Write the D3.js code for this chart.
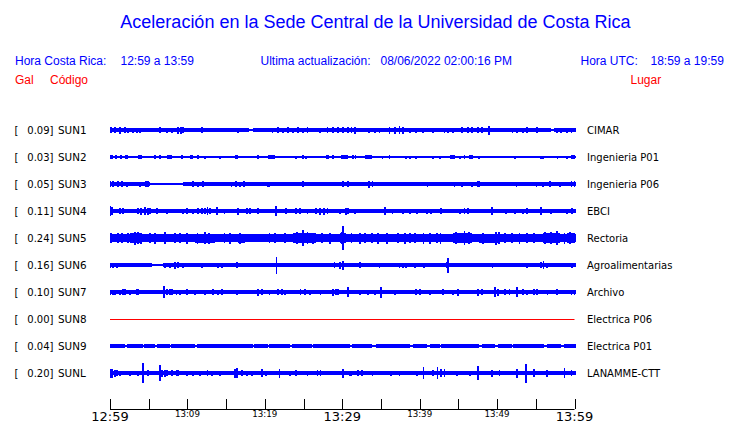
<!DOCTYPE html>
<html><head><meta charset="utf-8">
<script src="https://cdn.jsdelivr.net/npm/d3@7"></script>
<style>
html,body{margin:0;padding:0;background:#fff;}
svg{display:block;}
</style></head>
<body>
<script>
// ---------------- DATA ----------------
const stations = ["SUN1","SUN2","SUN3","SUN4","SUN5","SUN6","SUN7","SUN8","SUN9","SUNL"];
const galValues = [0.09,0.03,0.05,0.11,0.24,0.16,0.10,0.00,0.04,0.20];
const places = ["CIMAR","Ingenieria P01","Ingenieria P06","EBCI","Rectoria","Agroalimentarias","Archivo","Electrica P06","Electrica P01","LANAMME-CTT"];
const traceColors = ["blue","blue","blue","blue","blue","blue","blue","red","blue","blue"];
// base amplitude of each trace (arbitrary units)
const baseAmp = [1.7,0.6,1.7,1.7,4.0,1.7,1.7,0,1.7,1.7];
const tickMinutes = [0,5,10,15,20,25,30,35,40,45,50,55,60];
const tickLabels = {0:"12:59",10:"13:09",20:"13:19",30:"13:29",40:"13:39",50:"13:49",60:"13:59"};
const majorLabels = [0,30,60];

// segments: [startMin, endMin, amp]  spikes: [min, amp]
const sun1Seg = [[18.0,18.5,1.0],[57.0,57.4,1.0]];
const sun1Spk = [[0.1,3],[0.6,3],[1.3,3.5],[1.9,3],[2.3,2.5],[3.0,2.5],[3.5,2.5],[3.9,2.5],[6.5,3],[7.4,2.5],[8.0,2.5],[8.8,3.5],[9.2,3.5],[9.4,3],[11.9,3],[15.1,2],[16.5,2.5],
 [21.0,2.5],[21.7,3],[22.3,2.5],[23.0,3],[23.6,2.5],[24.3,3],[24.9,2.5],[25.5,3],[27.1,2.5],[28.1,3],[28.8,3],[29.4,3],[30.1,3],[30.7,3],[31.2,3],[31.6,3.5],[33.5,2.5],[34.2,2.5],[34.8,2.5],[36.1,3.5],[36.8,3.5],[37.4,4],[37.8,3.5],[38.7,2.5],[39.5,2.5],
 [40.4,2.5],[41.7,2.5],[43.2,2.5],[43.7,2.5],[44.3,2.5],[45.5,3],[46.2,3],[46.8,3],[47.5,3],[48.1,3],[49.0,4.5],[52.0,2.5],[52.6,2.5],[53.3,2.5],[53.9,3],[55.2,3],[57.7,2.5],[58.3,2.5],[59.0,2.5],[59.6,2.5]];

const sun2Seg = [[0,0.4,1.7],[0.6,0.9,1.7],[1.3,1.5,1.7],[1.9,2.3,1.7],[3.6,4.1,1.7],[7.4,8.0,1.7],[10.3,10.7,1.7],[16.1,16.5,1.7],[20.4,21.3,1.7],[27.9,28.3,1.7],[29.8,30.7,1.7],[33.0,33.9,1.7],[43.9,44.5,1.7],[59.6,60,1.7]];
const sun2Spk = [[5.8,1.7],[6.5,1.7],[9.3,1.7],[11.4,1.7],[12.3,1.5],[14.2,1.5],[19.1,1.7],[24.0,1.5],[24.9,1.7],[25.3,1.5],[28.8,1.7],[31.4,1.7],[31.7,1.7],[35.2,1.5],[36.1,1.7],[38.2,1.5],[38.8,1.5],[39.5,1.5],[41.7,1.5],[42.6,1.5],[45.2,1.5],[45.8,1.7],[46.5,1.7],[46.8,1.7],[47.7,1.5],[52.3,1.5],[55.7,1.5],[55.9,1.5],[57.8,1.5],[59.0,1.5]];

const sun3Seg = [[5.2,9.4,0.6]];
const sun3Spk = [[0,3],[0.4,3],[1.0,3],[1.5,3],[2.2,2.5],[3.9,2.5],[4.6,3],[4.9,3],[10.7,3],[11.4,2.5],[12.0,3],[15.7,2.5],[16.3,3],[16.8,2.5],[17.3,3],[20.4,2.5],[20.6,2.5],[24.9,3],[30.1,3],[30.7,3],[33.5,3.5],[33.9,3],[35.5,2],
 [41.0,2.5],[44.5,2.5],[45.5,2.5],[46.8,2.5],[47.5,3],[47.7,3],[52.5,2.5],[55.1,2.5],[55.9,2.5],[56.8,3],[58.1,2.5],[59.6,3],[60,3]];

const sun4Seg = [];
const sun4Spk = [[0,5],[0.3,4],[1.3,3],[1.7,3],[3.6,3],[4.0,3.5],[4.5,4],[4.9,3.5],[5.2,3],[6.1,3],[7.4,2.5],[9.4,2.5],[9.9,3],[10.7,2.5],[11.4,3],[11.9,3],[12.3,3],[12.6,4],[12.9,3],[13.8,4],[14.8,2.5],[16.5,3.5],[17.7,3],[18.1,3],[19.1,3],
 [21.4,5],[22.7,3],[24.0,3],[24.5,3],[25.5,2.5],[26.6,3],[27.1,3.5],[27.6,3.5],[28.1,3],[29.7,2.5],[30.5,3.5],[30.7,3],[31.6,2.5],[35.5,4],[36.5,2.5],[37.8,2.5],[38.8,2.5],[39.7,2.5],
 [40.9,2.5],[41.5,2.5],[42.8,3],[45.2,2.5],[45.8,3],[46.2,3],[49.3,4],[51.2,2.5],[52.3,2.5],[53.3,2.5],[53.9,3],[55.7,4],[57.0,2.5],[59.0,2.5],[59.7,3]];

const sun5Seg = [[0,0.3,5],[2.6,4.1,5],[11.0,13.5,4.5],[16.5,17.4,4.5],[23.6,26.6,5],[29.7,30.5,5],[44.3,46.8,5],[47.7,50.3,4.5],[55.9,58.1,5],[59.0,60,5]];
const sun5Spk = [[24.9,8],[30.1,12],[45.8,7],[49.9,6.5],[57.7,7],[3.2,6.5],[7.1,6],[12.3,6],[2.3,5],
 [1.0,5],[1.5,5],[5.2,5],[5.8,5.5],[8.4,5],[9.0,5],[9.9,5.5],[14.8,5],[15.5,5.5],[20.6,5],[21.3,5],[22.6,5],[27.4,5],[28.4,5.5],[31.2,5],[32.3,5.5],[32.9,5],[33.8,5],[34.6,5.5],[37.2,5],[38.1,5.5],[38.7,5],[39.4,5],[41.3,5.5],[42.2,5],[51.0,5],[51.9,5],[52.9,5.5],[53.9,5],[54.8,5],[58.7,5.5],
 [3.6,6],[4.0,5.5],[11.3,5.5],[12.8,5.5],[16.8,5.5],[24.2,6],[25.5,6],[26.2,5.5],[29.9,6],[35.8,5.5],[40.5,5.5],[42.7,5.5],[44.7,6],[46.4,6],[48.2,5.5],[50.2,6],[56.2,6],[57.0,6],[59.4,6]];

const sun6Seg = [[5.4,6.8,1.2]];
const sun6Spk = [[0,2.5],[0.4,2.5],[0.9,2.5],[7.1,2.5],[7.7,2.5],[8.4,3.5],[8.8,3],[9.4,2.5],[11.9,2.5],[13.9,2.5],[14.5,2.5],[16.4,3],[20.1,2],[21.5,8.5],[29.0,3],[29.7,3.5],[30.1,4.5],[32.3,3],[34.8,2.5],[37.4,2.5],[37.8,2.5],[38.2,2.5],[39.4,2.5],
 [40.6,2.5],[43.5,3],[43.7,7.5],[48.8,2],[49.4,2.5],[50.1,2],[51.2,2],[53.9,2.5],[55.7,3],[56.0,4],[56.4,2.5],[59.7,2.5]];

const sun7Seg = [];
const sun7Spk = [[0,2.5],[0.4,2.5],[0.6,2.5],[1.3,2.5],[1.7,3],[1.9,3],[2.6,2.5],[3.5,3],[3.6,3],[7.0,6],[7.4,3],[7.7,3],[8.0,3],[8.6,2.5],[9.0,2.5],[9.9,3],[11.0,2.5],[12.3,2.5],[13.3,3],[13.9,2.5],[14.5,3],[16.4,2.5],[19.1,3.5],[19.6,3],
 [20.6,2.5],[21.7,3],[22.2,3],[22.6,2.5],[24.6,3],[25.2,3],[25.8,2.5],[27.2,2.5],[28.8,3.5],[29.2,3],[29.4,3],[30.7,5],[32.3,2.5],[33.3,2.5],[34.2,2.5],[35.0,5.5],[36.8,2.5],[39.5,3],
 [40.0,3],[41.3,2.5],[43.0,3],[44.3,2.5],[44.9,3.5],[47.5,3.5],[48.1,3],[49.7,5],[50.1,3.5],[51.0,3],[51.6,3],[52.6,5],[53.3,3],[53.9,2.5],[54.8,3],[55.2,3],[56.5,2.5],[57.7,3],[57.8,3],[59.6,2.5],[60,2.5]];

const sun8Seg = [];
const sun8Spk = [];

const sun9Seg = [[1.9,2.2,1.0],[4.3,4.4,1.0],[5.8,6.1,1.0],[7.7,7.9,1.0],[11.0,11.2,1.0],[18.5,18.6,1.0],[20.4,20.6,1.0],[23.2,23.5,1.0],[26.1,26.2,1.0],[31.0,31.2,1.0],[33.9,34.3,1.0],[38.7,39.1,1.0],[40.9,41.3,1.0],[42.6,42.8,1.0],[47.7,48.0,1.0],[49.7,50.1,1.0],[51.9,52.0,1.0],[56.1,56.5,1.0],[58.2,58.7,1.0]];
const sun9Spk = [[6.2,2.2],[55.9,2.2]];

const sunLSeg = [];
const sunLSpk = [[0,4.5],[0.3,4.5],[0.6,3.5],[0.9,3],[1.3,2.5],[2.6,2.5],[3.6,2.5],[4.3,10],[4.9,3],[6.5,8],[6.7,3.5],[7.1,3.5],[7.4,3],[8.0,3],[8.6,3],[8.8,3],[9.9,2.5],[10.7,2.5],[11.6,2.5],[12.6,3],[13.2,2.5],[14.2,2.5],[16.1,4.5],[16.4,5],[17.0,3],[17.7,2.5],[18.3,2.5],[19.6,4],
 [20.1,2.5],[21.9,4.5],[23.2,2.5],[24.0,3],[25.5,2.5],[26.8,3],[27.2,3],[30.1,4.5],[31.0,2.5],[31.1,2.5],[32.0,3],[32.6,3],[33.9,2.5],[36.3,2.5],[37.4,2.5],[39.7,2.5],
 [40.5,6],[41.7,3],[42.3,6],[42.8,4],[43.2,4],[44.8,2.5],[46.5,2.5],[47.5,7],[49.3,3.5],[49.4,3.5],[50.3,3],[52.6,4.5],[53.7,9.5],[54.8,4],[56.4,3.5],[56.5,3],[58.7,5],[59.6,3]];

const segments = [sun1Seg,sun2Seg,sun3Seg,sun4Seg,sun5Seg,sun6Seg,sun7Seg,sun8Seg,sun9Seg,sunLSeg];
const spikes = [sun1Spk,sun2Spk,sun3Spk,sun4Spk,sun5Spk,sun6Spk,sun7Spk,sun8Spk,sun9Spk,sunLSpk];

// ---------------- CHART ----------------
const W = 740, H = 423;
const svg = d3.select("body").append("svg").attr("width", W).attr("height", H);
const headFont = "'Liberation Sans', Arial, Helvetica, sans-serif";
const labFont = "'DejaVu Sans', Verdana, sans-serif";
const blue = "#0000ff";

const x = d3.scaleLinear().domain([0, 60]).range([110, 574.5]);
const y = d3.scaleBand().domain(stations).range([116.5, 386.5]);
const amp = d3.scaleLinear().domain([0, 13.5]).range([0, 13.5]);

// title and header
svg.append("text").attr("x", 375.5).attr("y", 28).attr("text-anchor","middle")
  .attr("font-family", headFont).attr("font-size", 18).attr("fill", blue)
  .text("Aceleración en la Sede Central de la Universidad de Costa Rica");

const header = [
  [15, "Hora Costa Rica:"], [120.5, "12:59 a 13:59"],
  [260.5, "Ultima actualización:"], [380.5, "08/06/2022 02:00:16 PM"],
  [580.5, "Hora UTC:"], [650.5, "18:59 a 19:59"]
];
svg.selectAll("text.head").data(header).join("text").attr("class","head")
  .attr("x", d => d[0]).attr("y", 65).attr("font-family", headFont).attr("font-size", 12)
  .attr("fill", blue).text(d => d[1]);

const header2 = [[15,"Gal"],[50,"Código"],[630.5,"Lugar"]];
svg.selectAll("text.head2").data(header2).join("text").attr("class","head2")
  .attr("x", d => d[0]).attr("y", 84).attr("font-family", headFont).attr("font-size", 12)
  .attr("fill", "#ff0000").text(d => d[1]);

// row labels
const rows = svg.selectAll("g.row").data(stations).join("g").attr("class","row")
  .attr("transform", d => `translate(0,${y(d) + y.bandwidth()/2})`);
rows.append("text").attr("x", 14.5).attr("y", 4).attr("font-family", labFont).attr("font-size", 10)
  .attr("fill","#000").text("[");
rows.append("text").attr("x", 53.5).attr("y", 4).attr("text-anchor","end").attr("font-family", labFont).attr("font-size", 10)
  .attr("fill","#000").text((d,i) => galValues[i].toFixed(2) + "]");
rows.append("text").attr("x", 58).attr("y", 4).attr("font-family", labFont).attr("font-size", 10.4)
  .attr("fill","#000").text(d => d);
rows.append("text").attr("x", 587).attr("y", 4).attr("font-family", labFont).attr("font-size", 10)
  .attr("fill","#000").text((d,i) => places[i]);

// traces
const x0 = Math.round(x(0)), x1 = Math.round(x(60));
stations.forEach((s, i) => {
  const cy = y(s) + y.bandwidth()/2;
  if (baseAmp[i] === 0) {
    svg.append("line").attr("x1", x(0)).attr("x2", x(60)).attr("y1", Math.floor(cy)+0.5).attr("y2", Math.floor(cy)+0.5)
      .attr("stroke", traceColors[i]).attr("stroke-width", 1);
    return;
  }
  const cols = [];
  for (let c = x0; c <= x1; c++) {
    const t = x.invert(c + 0.5);
    let e = baseAmp[i];
    segments[i].forEach(sg => { if (t >= sg[0] && t <= sg[1]) e = sg[2]; });
    spikes[i].forEach(sp => { if (Math.abs(x(sp[0]) - (c + 0.5)) <= 0.9) e = Math.max(e, sp[1]); });
    cols.push({c, e});
  }
  cols.push({c: x1 + 1, e: cols[cols.length-1].e});
  const area = d3.area().x(d => d.c).y0(d => cy - amp(d.e)).y1(d => cy + amp(d.e)).curve(d3.curveStepAfter);
  svg.append("path").attr("d", area(cols)).attr("fill", traceColors[i]).attr("shape-rendering","crispEdges");
});

// axis
const axisY = 409;
svg.append("line").attr("x1", x(0)).attr("x2", x(60)).attr("y1", axisY+0.5).attr("y2", axisY+0.5)
  .attr("stroke","#000").attr("stroke-width",1);
svg.selectAll("line.tick").data(tickMinutes).join("line").attr("class","tick")
  .attr("x1", d => Math.round(x(d))+0.5).attr("x2", d => Math.round(x(d))+0.5)
  .attr("y1", axisY - 10).attr("y2", axisY).attr("stroke","#000").attr("stroke-width",1);
svg.selectAll("text.tl").data(Object.keys(tickLabels).map(Number)).join("text").attr("class","tl")
  .attr("x", d => x(d)).attr("y", d => majorLabels.includes(d) ? 420.5 : 417)
  .attr("text-anchor","middle").attr("font-family", labFont)
  .attr("font-size", d => majorLabels.includes(d) ? 13 : 8.7)
  .attr("fill","#000").text(d => tickLabels[d]);
</script>
</body></html>
